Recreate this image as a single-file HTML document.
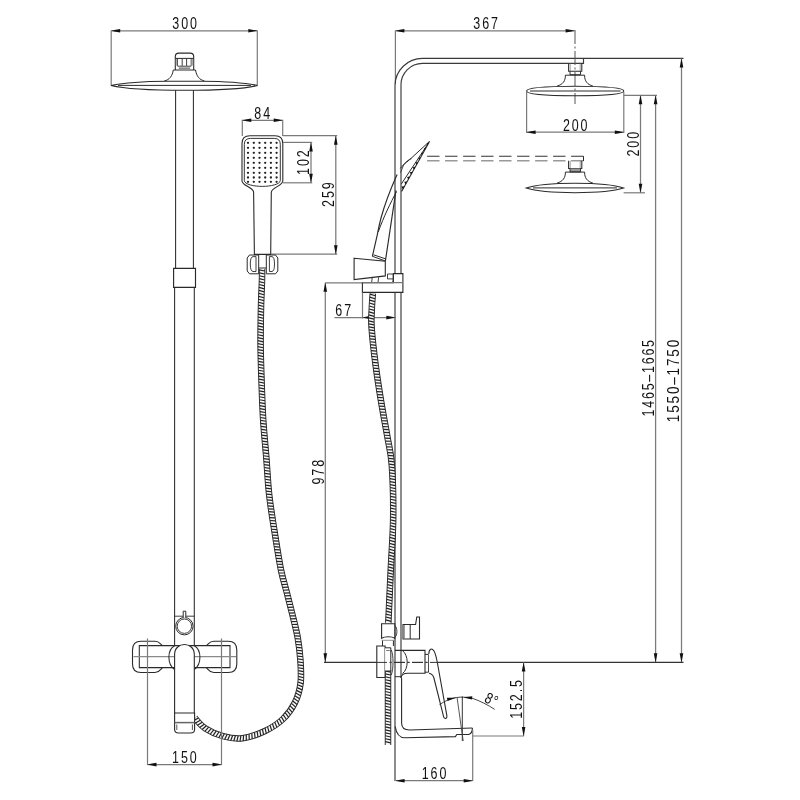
<!DOCTYPE html>
<html><head><meta charset="utf-8"><style>
html,body{margin:0;padding:0;background:#fff;}
svg{display:block;filter:grayscale(1);}
text{font-family:"Liberation Sans",sans-serif;}
</style></head><body>
<svg width="800" height="800" viewBox="0 0 800 800">
<rect width="800" height="800" fill="#fff"/>
<line x1="111.2" y1="30.5" x2="111.2" y2="85.5" stroke="#7a7a7a" stroke-width="1.2" />
<line x1="257.3" y1="30.5" x2="257.3" y2="85.5" stroke="#7a7a7a" stroke-width="1.2" />
<line x1="111.2" y1="30.8" x2="257.3" y2="30.8" stroke="#7a7a7a" stroke-width="1.25" />
<path d="M111.20,30.80 Q115.70,29.81 120.20,29.00 L120.20,32.60 Q115.70,31.79 111.20,30.80 Z" fill="#111"/>
<path d="M257.30,30.80 Q252.80,31.79 248.30,32.60 L248.30,29.00 Q252.80,29.81 257.30,30.80 Z" fill="#111"/>
<text transform="translate(185.56,28.6) scale(0.8,1)" text-anchor="middle" font-size="15.6" letter-spacing="2.4" fill="#111">300</text>
<path d="M111,85.5 C122,83.2 145,81.3 167,81.2 L202,81.2 C224,81.3 247,83.2 257.5,85.5 C247,88.2 228,90.3 184.4,90.3 C141,90.3 122,88.2 111,85.5 Z" stroke="#2a2a2a" stroke-width="1.1" fill="none" />
<line x1="118" y1="85.4" x2="251" y2="85.4" stroke="#2a2a2a" stroke-width="1.0" />
<path d="M173.3,70 L195.5,70 M173.3,70 C172.3,76 169.5,79.8 164.4,80.9 M195.5,70 C196.5,76 199.3,79.8 204.4,80.9" stroke="#2a2a2a" stroke-width="1.0" fill="none" />
<path d="M175.3,70 L175.3,56.6 Q175.3,53.1 178.8,53.1 L190.2,53.1 Q193.7,53.1 193.7,56.6 L193.7,70" stroke="#2a2a2a" stroke-width="1.1" fill="none" />
<line x1="175.3" y1="58.4" x2="193.7" y2="58.4" stroke="#2a2a2a" stroke-width="1.0" />
<line x1="177.5" y1="58.4" x2="177.5" y2="65.9" stroke="#2a2a2a" stroke-width="0.9" />
<line x1="182.2" y1="58.4" x2="182.2" y2="65.9" stroke="#2a2a2a" stroke-width="0.9" />
<line x1="186.6" y1="58.4" x2="186.6" y2="65.9" stroke="#2a2a2a" stroke-width="0.9" />
<line x1="191.2" y1="58.4" x2="191.2" y2="65.9" stroke="#2a2a2a" stroke-width="0.9" />
<rect x="175.8" y="59" width="1.4" height="6.6" fill="#aaa"/><rect x="191.6" y="59" width="1.6" height="6.6" fill="#aaa"/>
<line x1="177.5" y1="66.2" x2="191.2" y2="66.2" stroke="#2a2a2a" stroke-width="0.9" />
<line x1="178.8" y1="68.1" x2="190.1" y2="68.1" stroke="#2a2a2a" stroke-width="0.9" />
<line x1="175.6" y1="90.3" x2="175.6" y2="268.2" stroke="#2a2a2a" stroke-width="1.05" />
<line x1="193.4" y1="90.3" x2="193.4" y2="268.2" stroke="#2a2a2a" stroke-width="1.05" />
<path d="M173.6,268.3 L195.5,268.3 L195.5,287.4 L173.6,287.4 Z" stroke="#2a2a2a" stroke-width="1.15" fill="none" />
<line x1="174.6" y1="287.4" x2="174.6" y2="646" stroke="#2a2a2a" stroke-width="1.05" />
<line x1="194.3" y1="287.4" x2="194.3" y2="646" stroke="#2a2a2a" stroke-width="1.05" />
<line x1="174.6" y1="616.2" x2="194.3" y2="616.2" stroke="#2a2a2a" stroke-width="0.9" />
<circle cx="184.4" cy="626.2" r="8.7" stroke="#2a2a2a" stroke-width="1.0" fill="#fff"/>
<circle cx="184.4" cy="626.2" r="7.2" stroke="#2a2a2a" stroke-width="0.9" fill="none"/>
<path d="M183.2,617.8 L183.2,611.2 L185.8,611.2 L185.8,617.8" stroke="#2a2a2a" stroke-width="1.0" fill="#fff" />
<path d="M262.00,269.00 C262.00,270.83 262.17,273.58 262.00,280.00 C261.83,286.42 261.23,296.67 261.00,307.50 C260.77,318.33 260.50,332.48 260.60,345.00 C260.70,357.52 261.17,370.10 261.60,382.60 C262.03,395.10 262.42,407.52 263.20,420.00 C263.98,432.48 265.30,445.00 266.30,457.50 C267.30,470.00 267.80,482.48 269.20,495.00 C270.60,507.52 272.73,520.10 274.70,532.60 C276.67,545.10 278.98,560.02 281.00,570.00 C283.02,579.98 284.88,585.00 286.80,592.50 C288.72,600.00 290.68,607.48 292.50,615.00 C294.32,622.52 296.38,630.10 297.70,637.60 C299.02,645.10 299.92,652.43 300.40,660.00 C300.88,667.57 301.50,675.92 300.60,683.00 C299.70,690.08 297.93,696.50 295.00,702.50 C292.07,708.50 288.00,714.25 283.00,719.00 C278.00,723.75 271.75,727.78 265.00,731.00 C258.25,734.22 249.50,737.43 242.50,738.30 C235.50,739.17 229.25,737.88 223.00,736.20 C216.75,734.52 209.70,731.23 205.00,728.20 C200.30,725.17 196.50,719.70 194.80,718.00" stroke="#2a2a2a" stroke-width="6.5" fill="none"/>
<path d="M262.00,269.00 C262.00,270.83 262.17,273.58 262.00,280.00 C261.83,286.42 261.23,296.67 261.00,307.50 C260.77,318.33 260.50,332.48 260.60,345.00 C260.70,357.52 261.17,370.10 261.60,382.60 C262.03,395.10 262.42,407.52 263.20,420.00 C263.98,432.48 265.30,445.00 266.30,457.50 C267.30,470.00 267.80,482.48 269.20,495.00 C270.60,507.52 272.73,520.10 274.70,532.60 C276.67,545.10 278.98,560.02 281.00,570.00 C283.02,579.98 284.88,585.00 286.80,592.50 C288.72,600.00 290.68,607.48 292.50,615.00 C294.32,622.52 296.38,630.10 297.70,637.60 C299.02,645.10 299.92,652.43 300.40,660.00 C300.88,667.57 301.50,675.92 300.60,683.00 C299.70,690.08 297.93,696.50 295.00,702.50 C292.07,708.50 288.00,714.25 283.00,719.00 C278.00,723.75 271.75,727.78 265.00,731.00 C258.25,734.22 249.50,737.43 242.50,738.30 C235.50,739.17 229.25,737.88 223.00,736.20 C216.75,734.52 209.70,731.23 205.00,728.20 C200.30,725.17 196.50,719.70 194.80,718.00" stroke="#f8f8f8" stroke-width="4.6" fill="none"/>
<path d="M264.78,271.02L259.26,269.93M264.82,274.00L259.31,272.85M264.81,277.00L259.32,275.75M264.75,279.99L259.28,278.66M264.66,282.97L259.20,281.58M264.54,285.93L259.09,284.51M264.41,288.88L258.97,287.45M264.29,291.83L258.84,290.40M264.17,294.78L258.72,293.35M264.05,297.72L258.60,296.30M263.94,300.65L258.49,299.26M263.85,303.59L258.39,302.22M263.77,306.52L258.30,305.19M263.71,309.46L258.24,308.15M263.65,312.41L258.17,311.10M263.59,315.36L258.11,314.05M263.54,318.30L258.06,317.00M263.49,321.25L258.01,319.96M263.44,324.19L257.96,322.91M263.41,327.14L257.92,325.87M263.37,330.08L257.89,328.82M263.35,333.02L257.86,331.78M263.33,335.96L257.84,334.74M263.33,338.91L257.83,337.70M263.33,341.84L257.83,340.66M263.35,344.78L257.84,343.62M263.38,347.72L257.86,346.58M263.42,350.66L257.90,349.54M263.47,353.60L257.95,352.50M263.53,356.54L258.01,355.46M263.61,359.48L258.08,358.42M263.69,362.42L258.15,361.37M263.77,365.36L258.24,364.33M263.86,368.31L258.33,367.28M263.96,371.25L258.42,370.24M264.06,374.20L258.52,373.19M264.16,377.15L258.62,376.14M264.26,380.09L258.73,379.09M264.37,383.04L258.83,382.03M264.47,385.99L258.93,384.98M264.57,388.94L259.03,387.93M264.67,391.89L259.13,390.88M264.78,394.83L259.24,393.83M264.88,397.78L259.34,396.78M265.00,400.72L259.45,399.73M265.12,403.66L259.57,402.69M265.24,406.60L259.70,405.64M265.38,409.54L259.83,408.60M265.53,412.47L259.97,411.55M265.68,415.41L260.13,414.51M265.85,418.34L260.29,417.47M266.04,421.27L260.47,420.43M266.24,424.20L260.67,423.39M266.46,427.13L260.88,426.34M266.69,430.05L261.11,429.30M266.93,432.98L261.35,432.25M267.18,435.92L261.60,435.19M267.44,438.85L261.85,438.14M267.70,441.79L262.12,441.08M267.96,444.72L262.38,444.02M268.22,447.66L262.64,446.95M268.48,450.61L262.90,449.89M268.73,453.55L263.15,452.82M268.98,456.50L263.40,455.75M269.21,459.46L263.64,458.68M269.43,462.41L263.86,461.61M269.63,465.36L264.06,464.54M269.83,468.31L264.26,467.48M270.02,471.26L264.46,470.42M270.22,474.20L264.65,473.37M270.42,477.14L264.85,476.32M270.62,480.07L265.05,479.27M270.85,483.00L265.27,482.22M271.08,485.92L265.50,485.18M271.34,488.84L265.75,488.14M271.62,491.75L266.03,491.10M271.93,494.66L266.33,494.06M272.27,497.56L266.66,497.02M272.63,500.47L267.02,499.97M273.01,503.38L267.40,502.91M273.41,506.28L267.80,505.86M273.83,509.19L268.21,508.79M274.26,512.09L268.64,511.72M274.70,515.00L269.08,514.65M275.15,517.91L269.53,517.57M275.61,520.82L269.99,520.49M276.07,523.73L270.45,523.41M276.54,526.64L270.92,526.32M277.00,529.56L271.38,529.23M277.46,532.47L271.84,532.14M277.92,535.39L272.30,535.06M278.38,538.30L272.76,537.97M278.84,541.21L273.22,540.89M279.30,544.12L273.68,543.80M279.77,547.03L274.15,546.72M280.24,549.94L274.62,549.64M280.72,552.84L275.10,552.56M281.20,555.75L275.58,555.47M281.70,558.64L276.07,558.39M282.20,561.54L276.58,561.31M282.73,564.42L277.10,564.23M283.27,567.30L277.64,567.15M283.84,570.16L278.21,570.08M284.45,573.00L278.82,573.01M285.11,575.83L279.48,575.94M285.82,578.63L280.20,578.86M286.59,581.44L280.96,581.75M287.38,584.26L281.76,584.61M288.19,587.10L282.57,587.44M288.98,589.97L283.36,590.26M289.73,592.87L284.11,593.07M290.47,595.72L284.84,595.93M291.20,598.58L285.57,598.79M291.94,601.44L286.31,601.64M292.67,604.30L287.04,604.50M293.39,607.16L287.77,607.35M294.11,610.03L288.49,610.20M294.82,612.91L289.19,613.05M295.52,615.78L289.89,615.92M296.23,618.63L290.60,618.79M296.94,621.49L291.31,621.66M297.65,624.36L292.02,624.51M298.34,627.25L292.71,627.36M299.01,630.16L293.38,630.20M299.64,633.08L294.01,633.04M300.21,636.03L294.59,635.87M300.73,638.99L295.11,638.72M301.20,641.94L295.58,641.60M301.63,644.90L296.02,644.48M302.02,647.86L296.41,647.36M302.37,650.83L296.77,650.25M302.67,653.80L297.08,653.14M302.93,656.78L297.35,656.04M303.14,659.77L297.57,658.94M303.33,662.72L297.77,661.87M303.51,665.68L297.95,664.80M303.66,668.66L298.11,667.72M303.77,671.65L298.24,670.62M303.81,674.67L298.30,673.50M303.76,677.71L298.30,676.36M303.59,680.77L298.19,679.19M303.27,683.85L297.96,681.98M302.80,686.87L297.57,684.80M302.22,689.89L297.08,687.59M301.49,692.88L296.47,690.34M300.63,695.83L295.73,693.07M299.62,698.75L294.86,695.74M298.45,701.62L293.86,698.36M297.12,704.42L292.71,700.91M295.66,707.14L291.44,703.42M294.07,709.78L290.04,705.86M292.35,712.35L288.52,708.22M290.51,714.82L286.88,710.52M288.53,717.20L285.14,712.71M286.44,719.48L283.28,714.82M284.20,721.64L281.32,716.81M281.87,723.67L279.25,718.69M279.44,725.58L277.07,720.47M276.93,727.36L274.80,722.15M274.37,729.03L272.44,723.74M271.74,730.59L270.02,725.23M269.06,732.05L267.54,726.63M266.33,733.41L265.01,727.94M263.58,734.68L262.42,729.17M260.80,735.87L259.79,730.33M257.97,736.98L257.13,731.41M255.12,738.00L254.45,732.41M252.23,738.94L251.74,733.33M249.28,739.77L249.01,734.14M246.28,740.46L246.29,734.83M243.18,740.99L243.58,735.37M240.04,741.28L240.86,735.71M236.86,741.32L238.14,735.84M233.73,741.12L235.38,735.74M230.63,740.72L232.63,735.46M227.59,740.15L229.86,735.00M224.61,739.46L227.08,734.40M221.68,738.69L224.29,733.70M218.73,737.77L221.59,732.92M215.84,736.71L218.92,732.00M213.02,735.54L216.28,730.95M210.23,734.25L213.69,729.81M207.51,732.86L211.14,728.56M204.84,731.34L208.66,727.21M202.16,729.57L206.35,725.82M199.68,727.49L204.25,724.19M197.45,725.24L202.26,722.31M195.41,722.92L200.36,720.24M193.50,720.65L198.47,718.01" stroke="#222" stroke-width="1.2" fill="none"/>
<path d="M162.5,645.6 C160,644 159.5,641.3 155,641.3 L141,641.3 C135,641.3 132.5,644.5 132.5,650 L132.5,664 C132.5,669.5 135,672.5 141,672.5 L155,672.5 C159.5,672.5 160,670 162.5,667.6" stroke="#2a2a2a" stroke-width="1.1" fill="none" />
<path d="M206.3,645.6 C208.8,644 209.3,641.3 213.8,641.3 L228.2,641.3 C234.2,641.3 236.8,644.5 236.8,650 L236.8,664 C236.8,669.5 234.2,672.5 228.2,672.5 L213.8,672.5 C209.3,672.5 208.8,670 206.3,667.6" stroke="#2a2a2a" stroke-width="1.1" fill="none" />
<path d="M139.3,645.6 L230,645.6 L230,667.6 L139.3,667.6 Z" stroke="#2a2a2a" stroke-width="1.05" fill="none" />
<line x1="133.5" y1="656.7" x2="236" y2="656.7" stroke="#8a8a8a" stroke-width="1.3" />
<line x1="147.5" y1="638.5" x2="147.5" y2="765" stroke="#7a7a7a" stroke-width="1.2" />
<line x1="221.5" y1="638.5" x2="221.5" y2="765" stroke="#7a7a7a" stroke-width="1.2" />
<path d="M174.6,645.8 C167,650 167,664 174.6,669.5 M194.3,645.8 C201.8,650 201.8,664 194.3,669.5" stroke="#2a2a2a" stroke-width="1.05" fill="none" />
<path d="M174.6,713 L174.6,654.5 C174.6,641.2 194.3,641.2 194.3,654.5 L194.3,713" stroke="#2a2a2a" stroke-width="1.1" fill="#fff" />
<path d="M174.6,713 L194.6,713 L194.6,729.5 Q194.6,733 190.5,733 L178.7,733 Q174.6,733 174.6,729.5 Z" stroke="#2a2a2a" stroke-width="1.1" fill="#fff" />
<line x1="174.6" y1="722.6" x2="194.6" y2="722.6" stroke="#666" stroke-width="1.5" />
<path d="M176.8,724.5 L176.8,730 M192.4,724.5 L192.4,730" stroke="#2a2a2a" stroke-width="0.8" fill="none" />
<line x1="147.5" y1="764.6" x2="221.5" y2="764.6" stroke="#7a7a7a" stroke-width="1.25" />
<path d="M147.50,764.60 Q152.00,763.61 156.50,762.80 L156.50,766.40 Q152.00,765.59 147.50,764.60 Z" fill="#111"/>
<path d="M221.50,764.60 Q217.00,765.59 212.50,766.40 L212.50,762.80 Q217.00,763.61 221.50,764.60 Z" fill="#111"/>
<text transform="translate(185.36,762.6) scale(0.8,1)" text-anchor="middle" font-size="15.6" letter-spacing="2.4" fill="#111">150</text>
<line x1="242.3" y1="119.8" x2="242.3" y2="136" stroke="#7a7a7a" stroke-width="1.2" />
<line x1="282.7" y1="119.8" x2="282.7" y2="136" stroke="#7a7a7a" stroke-width="1.2" />
<line x1="242.3" y1="120.3" x2="282.7" y2="120.3" stroke="#7a7a7a" stroke-width="1.25" />
<path d="M242.30,120.30 Q246.80,119.31 251.30,118.50 L251.30,122.10 Q246.80,121.29 242.30,120.30 Z" fill="#111"/>
<path d="M282.70,120.30 Q278.20,121.29 273.70,122.10 L273.70,118.50 Q278.20,119.31 282.70,120.30 Z" fill="#111"/>
<text transform="translate(263.16,118.7) scale(0.8,1)" text-anchor="middle" font-size="15.6" letter-spacing="2.4" fill="#111">84</text>
<path d="M250,135.7 L275,135.7 Q282.8,135.7 282.8,143.5 L282.8,181 C282.8,185.5 272,187.5 271.3,192 L270.7,254.4 L254.4,254.4 L253.6,192 C253,187.5 242,185.5 242,181 L242,143.5 Q242,135.7 250,135.7 Z" stroke="#2a2a2a" stroke-width="1.1" fill="none" />
<path d="M250.5,138.4 L274.3,138.4 Q280.3,138.4 280.3,144.4 L280.3,180.5 C280.3,184.5 270,186.4 262.3,186.4 C254.5,186.4 244.3,184.5 244.3,180.5 L244.3,144.4 Q244.3,138.4 250.5,138.4 Z" stroke="#2a2a2a" stroke-width="0.95" fill="none" />
<circle cx="248" cy="142.8" r="1.15" fill="#222"/>
<circle cx="253.8" cy="142.8" r="1.15" fill="#222"/>
<circle cx="259.5" cy="142.8" r="1.15" fill="#222"/>
<circle cx="265.2" cy="142.8" r="1.15" fill="#222"/>
<circle cx="270.9" cy="142.8" r="1.15" fill="#222"/>
<circle cx="276.6" cy="142.8" r="1.15" fill="#222"/>
<circle cx="248" cy="147.8" r="1.15" fill="#222"/>
<circle cx="253.8" cy="147.8" r="1.15" fill="#222"/>
<circle cx="259.5" cy="147.8" r="1.15" fill="#222"/>
<circle cx="265.2" cy="147.8" r="1.15" fill="#222"/>
<circle cx="270.9" cy="147.8" r="1.15" fill="#222"/>
<circle cx="276.6" cy="147.8" r="1.15" fill="#222"/>
<circle cx="248" cy="152.8" r="1.15" fill="#222"/>
<circle cx="253.8" cy="152.8" r="1.15" fill="#222"/>
<circle cx="259.5" cy="152.8" r="1.15" fill="#222"/>
<circle cx="265.2" cy="152.8" r="1.15" fill="#222"/>
<circle cx="270.9" cy="152.8" r="1.15" fill="#222"/>
<circle cx="276.6" cy="152.8" r="1.15" fill="#222"/>
<circle cx="248" cy="157.8" r="1.15" fill="#222"/>
<circle cx="253.8" cy="157.8" r="1.15" fill="#222"/>
<circle cx="259.5" cy="157.8" r="1.15" fill="#222"/>
<circle cx="265.2" cy="157.8" r="1.15" fill="#222"/>
<circle cx="270.9" cy="157.8" r="1.15" fill="#222"/>
<circle cx="276.6" cy="157.8" r="1.15" fill="#222"/>
<circle cx="248" cy="162.8" r="1.15" fill="#222"/>
<circle cx="253.8" cy="162.8" r="1.15" fill="#222"/>
<circle cx="259.5" cy="162.8" r="1.15" fill="#222"/>
<circle cx="265.2" cy="162.8" r="1.15" fill="#222"/>
<circle cx="270.9" cy="162.8" r="1.15" fill="#222"/>
<circle cx="276.6" cy="162.8" r="1.15" fill="#222"/>
<circle cx="248" cy="167.8" r="1.15" fill="#222"/>
<circle cx="253.8" cy="167.8" r="1.15" fill="#222"/>
<circle cx="259.5" cy="167.8" r="1.15" fill="#222"/>
<circle cx="265.2" cy="167.8" r="1.15" fill="#222"/>
<circle cx="270.9" cy="167.8" r="1.15" fill="#222"/>
<circle cx="276.6" cy="167.8" r="1.15" fill="#222"/>
<circle cx="248" cy="172.8" r="1.15" fill="#222"/>
<circle cx="253.8" cy="172.8" r="1.15" fill="#222"/>
<circle cx="259.5" cy="172.8" r="1.15" fill="#222"/>
<circle cx="265.2" cy="172.8" r="1.15" fill="#222"/>
<circle cx="270.9" cy="172.8" r="1.15" fill="#222"/>
<circle cx="276.6" cy="172.8" r="1.15" fill="#222"/>
<circle cx="248" cy="177.5" r="1.15" fill="#222"/>
<circle cx="253.8" cy="177.5" r="1.15" fill="#222"/>
<circle cx="259.5" cy="177.5" r="1.15" fill="#222"/>
<circle cx="265.2" cy="177.5" r="1.15" fill="#222"/>
<circle cx="270.9" cy="177.5" r="1.15" fill="#222"/>
<circle cx="276.6" cy="177.5" r="1.15" fill="#222"/>
<circle cx="248" cy="181.8" r="1.15" fill="#222"/>
<circle cx="253.8" cy="181.8" r="1.15" fill="#222"/>
<circle cx="259.5" cy="181.8" r="1.15" fill="#222"/>
<circle cx="265.2" cy="181.8" r="1.15" fill="#222"/>
<circle cx="270.9" cy="181.8" r="1.15" fill="#222"/>
<circle cx="276.6" cy="181.8" r="1.15" fill="#222"/>
<line x1="283" y1="142.4" x2="312.2" y2="142.4" stroke="#7a7a7a" stroke-width="1.2" />
<line x1="283" y1="182.8" x2="312.2" y2="182.8" stroke="#7a7a7a" stroke-width="1.2" />
<line x1="311" y1="142.4" x2="311" y2="182.8" stroke="#7a7a7a" stroke-width="1.25" />
<path d="M311.00,142.40 Q311.99,146.90 312.80,151.40 L309.20,151.40 Q310.01,146.90 311.00,142.40 Z" fill="#111"/>
<path d="M311.00,182.80 Q310.01,178.30 309.20,173.80 L312.80,173.80 Q311.99,178.30 311.00,182.80 Z" fill="#111"/>
<text transform="translate(309.18,161.64) rotate(-90) scale(0.8,1)" text-anchor="middle" font-size="15.6" letter-spacing="2.4" fill="#111">102</text>
<line x1="283" y1="135.7" x2="337.2" y2="135.7" stroke="#7a7a7a" stroke-width="1.2" />
<line x1="271" y1="254.2" x2="337.2" y2="254.2" stroke="#7a7a7a" stroke-width="1.2" />
<line x1="335.8" y1="135.7" x2="335.8" y2="254.2" stroke="#7a7a7a" stroke-width="1.25" />
<path d="M335.80,135.70 Q336.79,140.20 337.60,144.70 L334.00,144.70 Q334.81,140.20 335.80,135.70 Z" fill="#111"/>
<path d="M335.80,254.20 Q334.81,249.70 334.00,245.20 L337.60,245.20 Q336.79,249.70 335.80,254.20 Z" fill="#111"/>
<text transform="translate(333.88,193.64) rotate(-90) scale(0.8,1)" text-anchor="middle" font-size="15.6" letter-spacing="2.4" fill="#111">259</text>
<path d="M249.5,255 L258.7,255 L258.7,273.8 L249.5,273.8 L247.2,271 L247.2,258 Z" stroke="#2a2a2a" stroke-width="1.0" fill="none" />
<path d="M256,256.6 L253,256.6 Q250.3,257 250.3,264 Q250.3,271.2 253,271.5 L256,271.5 Z" stroke="#2a2a2a" stroke-width="0.9" fill="none" />
<path d="M275.5,255 L266.3,255 L266.3,273.8 L275.5,273.8 L277.8,271 L277.8,258 Z" stroke="#2a2a2a" stroke-width="1.0" fill="none" />
<path d="M269.4,256.6 L272,256.6 Q274.5,257 274.5,264 Q274.5,271.2 272,271.5 L269.4,271.5 Z" stroke="#2a2a2a" stroke-width="0.9" fill="none" />
<path d="M258.7,268 L266.3,268" stroke="#2a2a2a" stroke-width="1.0" fill="none" />
<line x1="325.3" y1="282.8" x2="402.5" y2="282.8" stroke="#7a7a7a" stroke-width="1.2" />
<line x1="325.3" y1="282.8" x2="325.3" y2="662.3" stroke="#7a7a7a" stroke-width="1.25" />
<path d="M325.30,282.80 Q326.29,287.30 327.10,291.80 L323.50,291.80 Q324.31,287.30 325.30,282.80 Z" fill="#111"/>
<path d="M325.30,662.30 Q324.31,657.80 323.50,653.30 L327.10,653.30 Q326.29,657.80 325.30,662.30 Z" fill="#111"/>
<text transform="translate(323.98,471.24) rotate(-90) scale(0.8,1)" text-anchor="middle" font-size="15.6" letter-spacing="2.4" fill="#111">978</text>
<line x1="395.4" y1="30.5" x2="395.4" y2="84" stroke="#7a7a7a" stroke-width="1.2" />
<line x1="395.4" y1="30.8" x2="574.6" y2="30.8" stroke="#7a7a7a" stroke-width="1.25" />
<path d="M395.40,30.80 Q399.90,29.81 404.40,29.00 L404.40,32.60 Q399.90,31.79 395.40,30.80 Z" fill="#111"/>
<path d="M574.60,30.80 Q570.10,31.79 565.60,32.60 L565.60,29.00 Q570.10,29.81 574.60,30.80 Z" fill="#111"/>
<text transform="translate(486.56,29.3) scale(0.8,1)" text-anchor="middle" font-size="15.6" letter-spacing="2.4" fill="#111">367</text>
<path d="M395.0,781 L395.0,85.4 A27.5,27.5 0 0 1 422.5,58.4 L683.5,58.4" stroke="#3a3a3a" stroke-width="1.15" fill="none" />
<path d="M401.0,678 L401.0,85.4 A21.5,21.5 0 0 1 422.5,63.4 L583.5,63.4 L583.5,58.4" stroke="#3a3a3a" stroke-width="1.15" fill="none" />
<line x1="575" y1="30" x2="575" y2="104" stroke="#555" stroke-width="1.0" stroke-dasharray="14 2.5 2 2.5"/>
<path d="M568.6,63.5 L568.6,71.3 L581.8,71.3 L581.8,63.5" stroke="#2a2a2a" stroke-width="1.05" fill="none" />
<line x1="570.2" y1="63.5" x2="570.2" y2="71.3" stroke="#777" stroke-width="0.7" />
<line x1="580.2" y1="63.5" x2="580.2" y2="71.3" stroke="#777" stroke-width="0.7" />
<path d="M570,71.3 L570,74.7 L580.5,74.7 L580.5,71.3" stroke="#2a2a2a" stroke-width="0.95" fill="none" />
<path d="M565.4,75.2 L584.6,75.2 M565.4,75.2 C565.4,81.2 563,84.2 557,86.2 M584.6,75.2 C584.6,81.2 587,84.2 593,86.2" stroke="#2a2a2a" stroke-width="1.0" fill="none" />
<path d="M526.6,91 C526.6,88 540,86.4 575,86.3 C610,86.4 623.8,88 623.8,91 C623.8,94 610,95.7 575,95.7 C540,95.7 526.6,94 526.6,91 Z" stroke="#2a2a2a" stroke-width="1.1" fill="none" />
<line x1="530" y1="91" x2="620.5" y2="91" stroke="#2a2a2a" stroke-width="1.0" />
<line x1="583.5" y1="156.2" x2="425.6" y2="156.2" stroke="#333" stroke-width="1.1" stroke-dasharray="12.4 5.6"/>
<line x1="583.5" y1="160.7" x2="425.6" y2="160.7" stroke="#999" stroke-width="1.6" stroke-dasharray="12.4 5.6"/>
<line x1="583.5" y1="156.2" x2="583.5" y2="161" stroke="#2a2a2a" stroke-width="1.0" />
<path d="M568.6,160.7 L568.6,168.5 L581.8,168.5 L581.8,160.7" stroke="#2a2a2a" stroke-width="1.05" fill="none" />
<line x1="570.2" y1="160.7" x2="570.2" y2="168.5" stroke="#777" stroke-width="0.7" />
<line x1="580.2" y1="160.7" x2="580.2" y2="168.5" stroke="#777" stroke-width="0.7" />
<rect x="570" y="168.5" width="10.5" height="3.4" fill="#999"/>
<path d="M570,168.5 L570,171.89999999999998 L580.5,171.89999999999998 L580.5,168.5" stroke="#2a2a2a" stroke-width="0.95" fill="none" />
<path d="M565.4,172.1 L584.6,172.1 M565.4,172.1 C565.4,178.1 563,181.2 557,183.2 M584.6,172.1 C584.6,178.1 587,181.2 593,183.2" stroke="#2a2a2a" stroke-width="1.0" fill="none" />
<path d="M526.2,188.1 C535,185 550,183.3 575,183.3 C600,183.3 615,185 623.6,188.1 C615,191 600,192.7 575,192.7 C550,192.7 535,191 526.2,188.1 Z" stroke="#2a2a2a" stroke-width="1.1" fill="none" />
<line x1="533" y1="187.9" x2="617" y2="187.9" stroke="#2a2a2a" stroke-width="1.0" />
<line x1="526.6" y1="92" x2="526.6" y2="133" stroke="#7a7a7a" stroke-width="1.2" />
<line x1="623.8" y1="92" x2="623.8" y2="133" stroke="#7a7a7a" stroke-width="1.2" />
<line x1="526.6" y1="132.2" x2="623.8" y2="132.2" stroke="#7a7a7a" stroke-width="1.25" />
<path d="M526.60,132.20 Q531.10,131.21 535.60,130.40 L535.60,134.00 Q531.10,133.19 526.60,132.20 Z" fill="#111"/>
<path d="M623.80,132.20 Q619.30,133.19 614.80,134.00 L614.80,130.40 Q619.30,131.21 623.80,132.20 Z" fill="#111"/>
<text transform="translate(576.16,130.8) scale(0.8,1)" text-anchor="middle" font-size="15.6" letter-spacing="2.4" fill="#111">200</text>
<line x1="623.8" y1="95.3" x2="657" y2="95.3" stroke="#7a7a7a" stroke-width="1.2" />
<line x1="623.6" y1="192.8" x2="645" y2="192.8" stroke="#7a7a7a" stroke-width="1.2" />
<line x1="640.5" y1="95.3" x2="640.5" y2="192.8" stroke="#7a7a7a" stroke-width="1.25" />
<path d="M640.50,95.30 Q641.49,99.80 642.30,104.30 L638.70,104.30 Q639.51,99.80 640.50,95.30 Z" fill="#111"/>
<path d="M640.50,192.80 Q639.51,188.30 638.70,183.80 L642.30,183.80 Q641.49,188.30 640.50,192.80 Z" fill="#111"/>
<text transform="translate(638.78,143.24) rotate(-90) scale(0.8,1)" text-anchor="middle" font-size="15.6" letter-spacing="2.4" fill="#111">200</text>
<line x1="655.6" y1="95.3" x2="655.6" y2="662.3" stroke="#7a7a7a" stroke-width="1.25" />
<path d="M655.60,95.30 Q656.59,99.80 657.40,104.30 L653.80,104.30 Q654.61,99.80 655.60,95.30 Z" fill="#111"/>
<path d="M655.60,662.30 Q654.61,657.80 653.80,653.30 L657.40,653.30 Q656.59,657.80 655.60,662.30 Z" fill="#111"/>
<text transform="translate(654.48,377.32) rotate(-90) scale(0.8,1)" text-anchor="middle" font-size="15.6" letter-spacing="2.2" fill="#111">1465–1665</text>
<line x1="681.5" y1="58.5" x2="681.5" y2="662.3" stroke="#7a7a7a" stroke-width="1.25" />
<path d="M681.50,58.50 Q682.49,63.00 683.30,67.50 L679.70,67.50 Q680.51,63.00 681.50,58.50 Z" fill="#111"/>
<path d="M681.50,662.30 Q680.51,657.80 679.70,653.30 L683.30,653.30 Q682.49,657.80 681.50,662.30 Z" fill="#111"/>
<text transform="translate(679.45,380.08) rotate(-90) scale(0.8,1)" text-anchor="middle" font-size="16.9" letter-spacing="2.3" fill="#111">1550–1750</text>
<line x1="324" y1="662.4" x2="376" y2="662.4" stroke="#333" stroke-width="1.1" />
<line x1="376" y1="662.4" x2="440" y2="662.4" stroke="#333" stroke-width="1.0" stroke-dasharray="11 2.5 2 2.5"/>
<line x1="440" y1="662.4" x2="683.5" y2="662.4" stroke="#333" stroke-width="1.1" />
<path d="M429.5,141.4 L409,160.2 C405.5,163.2 401.8,166 400.3,168.4" stroke="#2a2a2a" stroke-width="1.0" fill="none" />
<path d="M411.5,158.6 C408.5,159.6 405.5,162 403.8,164.5 L400.6,172.5" stroke="#2a2a2a" stroke-width="0.85" fill="none" />
<path d="M429.5,141.4 L401.6,191.4" stroke="#2a2a2a" stroke-width="1.1" fill="none" />
<path d="M427.6,144.4 L401.2,184.2" stroke="#2a2a2a" stroke-width="1.0" fill="none" />
<path d="M428.84,142.59 L427.18,145.55 L426.81,143.40 Z" fill="#111"/>
<path d="M426.13,147.44 L424.47,150.41 L424.00,148.20 Z" fill="#111"/>
<path d="M423.42,152.29 L421.76,155.26 L421.18,152.99 Z" fill="#111"/>
<path d="M420.71,157.15 L419.06,160.12 L418.36,157.78 Z" fill="#111"/>
<path d="M418.00,162.00 L416.35,164.97 L415.54,162.57 Z" fill="#111"/>
<path d="M415.29,166.86 L413.64,169.83 L412.72,167.37 Z" fill="#111"/>
<path d="M412.59,171.71 L410.93,174.68 L409.90,172.16 Z" fill="#111"/>
<path d="M409.88,176.57 L408.22,179.53 L407.08,176.95 Z" fill="#111"/>
<path d="M407.17,181.42 L405.51,184.39 L404.26,181.75 Z" fill="#111"/>
<path d="M404.46,186.28 L402.80,189.24 L401.44,186.54 Z" fill="#111"/>
<path d="M397.1,174.4 C391,188 385,203 381,218 C379,226 377.8,232 377.5,234 L372.4,256.3" stroke="#2a2a2a" stroke-width="1.15" fill="none" />
<path d="M396.5,191.6 C390.5,203 384,216 378.2,232" stroke="#2a2a2a" stroke-width="1.0" fill="none" />
<path d="M396,190.3 L385.4,261" stroke="#2a2a2a" stroke-width="1.15" fill="none" />
<path d="M372.4,256.3 L385.4,261 M373.5,254.8 L386,259" stroke="#2a2a2a" stroke-width="1.0" fill="none" />
<path d="M354.1,258.2 L385.3,261.3 L385.3,275.9 L354.1,279.6 Z" stroke="#2a2a2a" stroke-width="1.1" fill="#fff" />
<path d="M372.2,278 L371.6,282.6 M378.6,277.3 L378,282.6" stroke="#2a2a2a" stroke-width="0.9" fill="none" />
<path d="M387.5,274 L393.2,274 L393.2,278.9 L387.5,278.9 Z" stroke="#2a2a2a" stroke-width="0.9" fill="none" />
<path d="M393.2,278.9 C393.2,281 392.5,282.2 391,282.8" stroke="#2a2a2a" stroke-width="0.8" fill="none" />
<path d="M393.4,282.6 L393.4,273.6 L402.9,273.6 L402.9,292.4 L362.4,292.4 L362.4,282.6 Z" stroke="#2a2a2a" stroke-width="1.1" fill="#fff" />
<line x1="362.4" y1="282.6" x2="402.9" y2="282.6" stroke="#777" stroke-width="1.1" />
<line x1="362.5" y1="292.5" x2="362.5" y2="318.5" stroke="#7a7a7a" stroke-width="1.2" />
<line x1="334.4" y1="317.6" x2="395.6" y2="317.6" stroke="#7a7a7a" stroke-width="1.25" />
<path d="M362.50,317.60 Q367.00,316.61 371.50,315.80 L371.50,319.40 Q367.00,318.59 362.50,317.60 Z" fill="#111"/>
<path d="M395.30,317.60 Q390.80,318.59 386.30,319.40 L386.30,315.80 Q390.80,316.61 395.30,317.60 Z" fill="#111"/>
<text transform="translate(344.16,315.6) scale(0.8,1)" text-anchor="middle" font-size="15.6" letter-spacing="2.4" fill="#111">67</text>
<path d="M372.80,293.50 C372.63,296.05 372.00,303.13 371.80,308.80 C371.60,314.47 370.97,318.13 371.60,327.50 C372.23,336.87 373.98,352.48 375.60,365.00 C377.22,377.52 379.35,390.72 381.30,402.60 C383.25,414.48 385.55,425.90 387.30,436.30 C389.05,446.70 390.82,451.47 391.80,465.00 C392.78,478.53 393.38,500.00 393.20,517.50 C393.02,535.00 391.57,552.42 390.75,570.00 C389.93,587.58 388.71,614.17 388.30,623.00" stroke="#2a2a2a" stroke-width="6.5" fill="none"/>
<path d="M372.80,293.50 C372.63,296.05 372.00,303.13 371.80,308.80 C371.60,314.47 370.97,318.13 371.60,327.50 C372.23,336.87 373.98,352.48 375.60,365.00 C377.22,377.52 379.35,390.72 381.30,402.60 C383.25,414.48 385.55,425.90 387.30,436.30 C389.05,446.70 390.82,451.47 391.80,465.00 C392.78,478.53 393.38,500.00 393.20,517.50 C393.02,535.00 391.57,552.42 390.75,570.00 C389.93,587.58 388.71,614.17 388.30,623.00" stroke="#f8f8f8" stroke-width="4.6" fill="none"/>
<path d="M375.39,295.78L370.00,294.16M375.16,298.72L369.77,297.10M374.95,301.65L369.55,300.06M374.76,304.57L369.35,303.03M374.60,307.48L369.17,306.01M374.49,310.41L369.04,308.97M374.31,313.40L368.90,311.87M374.16,316.31L368.72,314.85M374.08,319.18L368.60,317.88M374.10,322.04L368.58,320.92M374.20,324.90L368.65,323.95M374.38,327.79L368.81,326.96M374.60,330.69L369.02,329.94M374.85,333.61L369.26,332.90M375.12,336.53L369.53,335.86M375.41,339.45L369.82,338.81M375.71,342.37L370.11,341.75M376.02,345.30L370.42,344.70M376.35,348.22L370.75,347.64M376.68,351.14L371.08,350.58M377.02,354.07L371.42,353.52M377.37,356.99L371.76,356.45M377.73,359.91L372.12,359.39M378.09,362.83L372.49,362.33M378.47,365.74L372.86,365.26M378.86,368.65L373.25,368.20M379.26,371.56L373.65,371.13M379.67,374.47L374.06,374.07M380.10,377.38L374.48,377.00M380.53,380.29L374.92,379.92M380.98,383.20L375.36,382.85M381.43,386.11L375.81,385.77M381.89,389.02L376.27,388.69M382.35,391.92L376.73,391.61M382.82,394.83L377.20,394.53M383.29,397.74L377.67,397.44M383.77,400.65L378.15,400.35M384.25,403.56L378.62,403.27M384.74,406.45L379.11,406.19M385.24,409.35L379.62,409.11M385.75,412.24L380.13,412.03M386.28,415.14L380.65,414.94M386.81,418.03L381.18,417.84M387.34,420.93L381.72,420.75M387.88,423.83L382.25,423.65M388.41,426.74L382.78,426.55M388.93,429.65L383.31,429.44M389.45,432.57L383.82,432.34M389.95,435.49L384.33,435.23M390.45,438.37L384.83,438.16M391.00,441.23L385.37,441.10M391.58,444.10L385.95,444.01M392.16,447.00L386.53,446.90M392.72,449.93L387.09,449.76M393.22,452.90L387.60,452.60M393.65,455.89L388.04,455.45M394.01,458.88L388.41,458.31M394.31,461.87L388.72,461.19M394.55,464.86L388.97,464.08M394.75,467.83L389.18,466.99M394.93,470.80L389.37,469.92M395.08,473.76L389.53,472.84M395.22,476.72L389.67,475.78M395.35,479.68L389.80,478.71M395.46,482.64L389.92,481.65M395.56,485.60L390.03,484.58M395.65,488.56L390.12,487.52M395.73,491.52L390.20,490.46M395.80,494.48L390.27,493.40M395.86,497.44L390.33,496.34M395.90,500.40L390.39,499.28M395.94,503.36L390.43,502.22M395.96,506.32L390.46,505.16M395.98,509.28L390.47,508.10M395.98,512.24L390.48,511.04M395.97,515.20L390.48,513.97M395.94,518.17L390.46,516.91M395.90,521.14L390.42,519.84M395.83,524.11L390.36,522.77M395.74,527.07L390.28,525.70M395.63,530.04L390.18,528.63M395.51,533.00L390.07,531.56M395.38,535.96L389.94,534.50M395.23,538.91L389.80,537.44M395.07,541.87L389.64,540.37M394.91,544.82L389.48,543.31M394.74,547.77L389.32,546.25M394.57,550.72L389.15,549.20M394.39,553.66L388.97,552.14M394.22,556.61L388.80,555.09M394.05,559.55L388.63,558.04M393.89,562.49L388.46,560.99M393.73,565.43L388.30,563.94M393.58,568.36L388.15,566.89M393.44,571.30L388.00,569.85M393.31,574.25L387.87,572.80M393.17,577.20L387.73,575.74M393.03,580.14L387.59,578.69M392.90,583.09L387.46,581.64M392.76,586.04L387.32,584.58M392.62,588.98L387.19,587.53M392.49,591.93L387.05,590.48M392.35,594.88L386.91,593.42M392.22,597.82L386.78,596.37M392.08,600.77L386.64,599.32M391.94,603.72L386.50,602.26M391.81,606.66L386.37,605.21M391.67,609.61L386.23,608.16M391.54,612.56L386.10,611.11M391.40,615.50L385.96,614.05M391.26,618.45L385.82,617.00M391.13,621.40L385.69,619.95" stroke="#222" stroke-width="1.2" fill="none"/>
<path d="M388.00,670.00 C388.00,682.50 388.00,732.50 388.00,745.00" stroke="#2a2a2a" stroke-width="6.5" fill="none"/>
<path d="M388.00,670.00 C388.00,682.50 388.00,732.50 388.00,745.00" stroke="#f8f8f8" stroke-width="4.6" fill="none"/>
<path d="M390.75,672.07L385.25,670.88M390.75,675.02L385.25,673.83M390.75,677.97L385.25,676.78M390.75,680.92L385.25,679.73M390.75,683.88L385.25,682.67M390.75,686.83L385.25,685.62M390.75,689.78L385.25,688.57M390.75,692.72L385.25,691.53M390.75,695.68L385.25,694.47M390.75,698.62L385.25,697.42M390.75,701.58L385.25,700.37M390.75,704.53L385.25,703.32M390.75,707.48L385.25,706.27M390.75,710.43L385.25,709.23M390.75,713.37L385.25,712.18M390.75,716.33L385.25,715.12M390.75,719.27L385.25,718.07M390.75,722.22L385.25,721.03M390.75,725.18L385.25,723.97M390.75,728.12L385.25,726.92M390.75,731.08L385.25,729.88M390.75,734.03L385.25,732.83M390.75,736.98L385.25,735.77M390.75,739.93L385.25,738.73M390.75,742.88L385.25,741.68" stroke="#222" stroke-width="1.2" fill="none"/>
<path d="M381.6,623.8 L394.8,623.8 L394.8,638.2 C392,636.3 384.5,636.3 381.6,638.2 Z" stroke="#2a2a2a" stroke-width="1.1" fill="#fff" />
<path d="M394.8,625.5 C397.6,628 397.6,635 394.8,637.5" stroke="#2a2a2a" stroke-width="0.9" fill="none" />
<path d="M382.5,646 L382.5,640.4 M393.4,646 L393.4,640.4" stroke="#2a2a2a" stroke-width="1.0" fill="none" />
<line x1="381.6" y1="640.3" x2="394.8" y2="640.3" stroke="#777" stroke-width="0.8" />
<path d="M376.8,646 L385.1,646 L385.1,677.5 L376.8,677.5 Z" stroke="#2a2a2a" stroke-width="1.1" fill="#fff" />
<path d="M385.1,647.8 L390.8,647.8 L390.8,671 L385.1,671" stroke="#2a2a2a" stroke-width="1.0" fill="#fff" />
<line x1="386.2" y1="650.5" x2="389.8" y2="650.5" stroke="#555" stroke-width="0.8" />
<path d="M391.3,650 C393.6,655 393.6,669 391.3,675" stroke="#2a2a2a" stroke-width="0.9" fill="none" />
<path d="M394.9,650.4 L425,650.4 L425,673.3 L408,673.3" stroke="#2a2a2a" stroke-width="1.1" fill="none" />
<path d="M402.2,650.4 C408.8,655 408.8,669 402.5,673.5" stroke="#2a2a2a" stroke-width="1.0" fill="none" />
<path d="M394.9,676.7 L401,676.7" stroke="#2a2a2a" stroke-width="1.0" fill="none" />
<path d="M425,654.4 L428.6,654.4 L428.6,672.2 L425,672.2" stroke="#2a2a2a" stroke-width="1.0" fill="none" />
<path d="M428.8,654 C429,648.5 431.8,647.8 434,651 C435.5,653.5 436.5,658 437.6,664 L446.9,715.8 C447.3,718.6 444.4,719.6 443.6,716.6 L433.8,677.5 C432.8,674.8 431,673.6 429,673.3" stroke="#2a2a2a" stroke-width="1.1" fill="#fff" />
<path d="M395.2,726.5 C396.2,733 399.5,737.8 405,737.8 L455.4,736.6 L456.8,734.5 L468.5,734.5 C471,734 472.4,731 472.4,728" stroke="#2a2a2a" stroke-width="1.1" fill="none" />
<path d="M401.6,678 L401.6,723 C401.6,727.5 404.5,730 409.5,730 L472.4,728" stroke="#2a2a2a" stroke-width="1.1" fill="none" />
<path d="M401,678 C401.2,675 403.5,673.3 408,673.3" stroke="#2a2a2a" stroke-width="1.1" fill="none" />
<line x1="376" y1="662.4" x2="440" y2="662.4" stroke="#333" stroke-width="1.0" stroke-dasharray="11 2.5 2 2.5"/>
<path d="M439.5,704.6 C445,701 450,698.8 456.5,697.5 C459,697.1 461,697.1 463.5,697.2 C467,697.3 470,697.7 472,698.2 C480,700.8 488,705 494.7,709.4" stroke="#333" stroke-width="0.9" fill="none" />
<path d="M456.50,697.40 Q452.03,699.22 447.52,700.89 L446.87,697.75 Q451.67,697.50 456.50,697.40 Z" fill="#111"/>
<path d="M463.20,697.20 Q467.76,696.69 472.30,696.33 L472.04,699.52 Q467.61,698.44 463.20,697.20 Z" fill="#111"/>
<line x1="462.3" y1="696.3" x2="462.3" y2="741" stroke="#333" stroke-width="1.0" />
<line x1="457" y1="697" x2="463.2" y2="741" stroke="#444" stroke-width="0.9" />
<text transform="translate(483.6,701.6) rotate(26) scale(0.8,1)" font-size="15.6" letter-spacing="0.6" fill="#111">8°</text>
<line x1="472.5" y1="736" x2="524" y2="736" stroke="#7a7a7a" stroke-width="1.2" />
<line x1="523.6" y1="662.4" x2="523.6" y2="736" stroke="#7a7a7a" stroke-width="1.25" />
<path d="M523.60,662.40 Q524.59,666.90 525.40,671.40 L521.80,671.40 Q522.61,666.90 523.60,662.40 Z" fill="#111"/>
<path d="M523.60,736.00 Q522.61,731.50 521.80,727.00 L525.40,727.00 Q524.59,731.50 523.60,736.00 Z" fill="#111"/>
<text transform="translate(521.58,698.44) rotate(-90) scale(0.8,1)" text-anchor="middle" font-size="15.6" letter-spacing="2.4" fill="#111">152.5</text>
<line x1="472.7" y1="730" x2="472.7" y2="781" stroke="#7a7a7a" stroke-width="1.2" />
<line x1="395.6" y1="780.7" x2="472.7" y2="780.7" stroke="#7a7a7a" stroke-width="1.25" />
<path d="M395.60,780.70 Q400.10,779.71 404.60,778.90 L404.60,782.50 Q400.10,781.69 395.60,780.70 Z" fill="#111"/>
<path d="M472.70,780.70 Q468.20,781.69 463.70,782.50 L463.70,778.90 Q468.20,779.71 472.70,780.70 Z" fill="#111"/>
<text transform="translate(434.96,779) scale(0.8,1)" text-anchor="middle" font-size="15.6" letter-spacing="2.4" fill="#111">160</text>
<path d="M403,624.5 L415.6,624.5 L416.8,617 L419.5,617 L419.5,639 L403,639 Z" stroke="#2a2a2a" stroke-width="1.1" fill="#fff" />
<line x1="410.2" y1="624.5" x2="410.2" y2="639" stroke="#2a2a2a" stroke-width="1.0" />
<line x1="404.3" y1="625" x2="404.3" y2="638.5" stroke="#666" stroke-width="0.8" />
</svg>
</body></html>
